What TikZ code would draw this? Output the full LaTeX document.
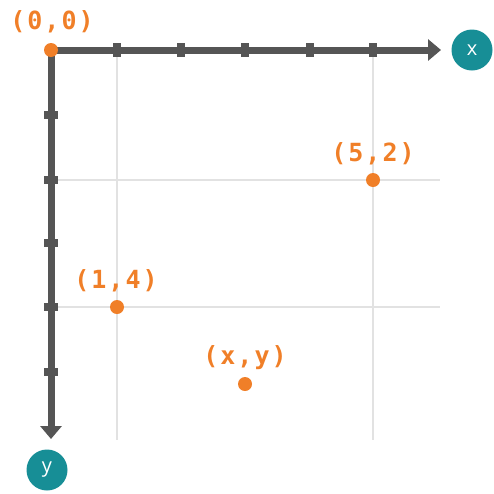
\documentclass[tikz,border=0pt]{standalone}
\usepackage{fontspec}
\setsansfont{Open Sans}
\newfontfamily\labfont[LetterSpace=8,BoldFont={DejaVu Sans Mono Bold}]{DejaVu Sans Mono}
\usetikzlibrary{arrows.meta}
\definecolor{axisgray}{HTML}{555555}
\definecolor{gridgray}{HTML}{E2E2E2}
\definecolor{ptorange}{HTML}{F07F28}
\definecolor{tealc}{HTML}{178E96}
\begin{document}
\begin{tikzpicture}[x=1pt,y=-1pt,
  axis/.style={draw=axisgray,line width=7pt,-{Triangle[length=13pt,width=21pt]}},
  gridline/.style={draw=gridgray,line width=1.5pt},
  tickmark/.style={fill=axisgray,minimum width=14pt,minimum height=8pt,inner sep=0pt,draw=none},
  ytick/.style={fill=axisgray,minimum width=8pt,minimum height=14pt,inner sep=0pt,draw=none},
  dot/.style={circle,fill=ptorange,minimum size=14pt,inner sep=0pt},
  coordlabel/.style={text=ptorange,font=\fontsize{25}{29}\labfont\bfseries\selectfont,inner sep=0pt},
  axlabel/.style={circle,fill=tealc,minimum size=41pt,inner sep=0pt,text=white,font=\sffamily\fontsize{20}{22}\selectfont}]
\useasboundingbox (0,0) rectangle (494,493);
% grid
\draw[gridline] (117,50) -- (117,440);
\draw[gridline] (373,50) -- (373,440);
\draw[gridline] (51,180) -- (440,180);
\draw[gridline] (51,307) -- (440,307);
% axes
\coordinate (O) at (51,50);
\coordinate (xend) at (441,50);
\coordinate (yend) at (51,439);
\draw[axis] (O) -- (xend);
\draw[axis] (O) -- (yend);
% ticks
\foreach \t in {117,181,245,310,373} \node[ytick] at (\t,50) {};
\foreach \t in {115,180,243,307,372} \node[tickmark] at (51,\t) {};
% axis labels
\node[axlabel] (xl) at (472,50) {x};
\node[axlabel] (yl) at (47,470) {y};
% points
\node[dot] (p0) at (51,50) {};
\node[dot] (p52) at (373,180) {};
\node[dot] (p14) at (117,307) {};
\node[dot] (pxy) at (245,384) {};
\node[coordlabel] (l0) at (52,22) {(0,0)};
\node[coordlabel] (l52) at (373,154) {(5,2)};
\node[coordlabel] (l14) at (116,281) {(1,4)};
\node[coordlabel] (lxy) at (245,358) {(x,y)};
\end{tikzpicture}
\end{document}
